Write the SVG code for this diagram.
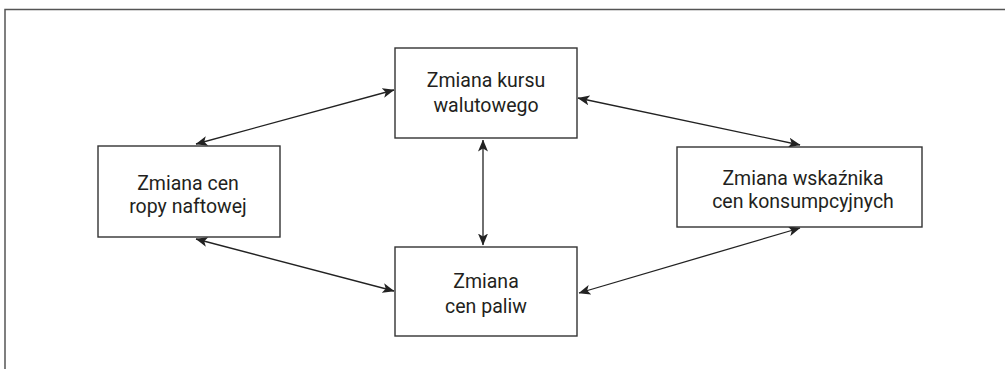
<svg xmlns="http://www.w3.org/2000/svg" width="1005" height="369" viewBox="0 0 1005 369">
  <style>
    .frame { fill: none; stroke: #555; stroke-width: 1.5; }
    .box { fill: #fff; stroke: #333; stroke-width: 1.4; }
    .label { font-family: Roboto, "Liberation Sans", sans-serif; font-size: 19.5px; fill: #231f20; text-anchor: middle; }
    .link { fill: none; stroke: #222; stroke-width: 1.3; marker-start: url(#head); marker-end: url(#head); }
  </style>
  <defs>
    <marker id="head" viewBox="0 0 12 10" refX="11.5" refY="5" markerWidth="12" markerHeight="10" markerUnits="userSpaceOnUse" orient="auto-start-reverse">
      <path d="M0,0 L12,5 L0,10 L3,5 Z" fill="#222"/>
    </marker>
  </defs>

  <rect class="frame" x="5" y="9.5" width="1010" height="370"/>

  <g id="connectors">
    <line class="link" x1="196" y1="144" x2="394" y2="90"/>
    <line class="link" x1="578" y1="98" x2="800" y2="145"/>
    <line class="link" x1="483" y1="140" x2="483" y2="245"/>
    <line class="link" x1="196" y1="239" x2="394" y2="291"/>
    <line class="link" x1="579" y1="293" x2="800" y2="228"/>
  </g>

  <g id="node-kurs">
    <rect class="box" x="395" y="48" width="182" height="90"/>
    <text class="label" x="486" y="87">Zmiana kursu</text>
    <text class="label" x="486" y="112">walutowego</text>
  </g>

  <g id="node-ropa">
    <rect class="box" x="98" y="146" width="182" height="91"/>
    <text class="label" x="188" y="190">Zmiana cen</text>
    <text class="label" x="188" y="213">ropy naftowej</text>
  </g>

  <g id="node-cpi">
    <rect class="box" x="677" y="147" width="245" height="80"/>
    <text class="label" x="803" y="185">Zmiana wskaźnika</text>
    <text class="label" x="803" y="208">cen konsumpcyjnych</text>
  </g>

  <g id="node-paliwa">
    <rect class="box" x="395" y="247" width="182" height="89"/>
    <text class="label" x="486" y="288">Zmiana</text>
    <text class="label" x="486" y="313">cen paliw</text>
  </g>
</svg>
